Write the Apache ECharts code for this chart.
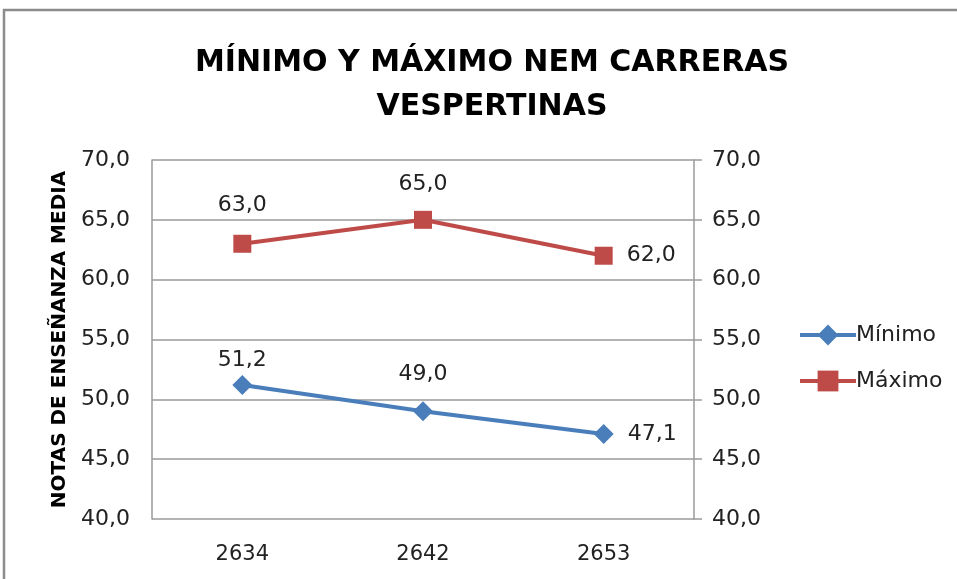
<!DOCTYPE html>
<html>
<head>
<meta charset="utf-8">
<script src="https://cdn.jsdelivr.net/npm/echarts@6/dist/echarts.min.js"></script>
<style>
  html, body { margin: 0; padding: 0; background: #fff; }
  #chart { width: 957px; height: 579px; }
</style>
</head>
<body>
<div id="chart"></div>
<script>
// Career codes on the x axis
const categories = ['2634', '2642', '2653'];
// Lowest and highest secondary-school grade averages (NEM)
const minimo = [51.2, 49.0, 47.1];
const maximo = [63.0, 65.0, 62.0];
const seriesNames = ['Mínimo', 'Máximo'];
const yMin = 40, yMax = 70, yStep = 5;

const FONT = 'DejaVu Sans';
const fmt = v => v.toFixed(1).replace('.', ',');

const chart = echarts.init(document.getElementById('chart'), null, { renderer: 'canvas' });

// Labels sit above each marker, except the last one which sits to its right
function labelFor(i, n, gap) {
  return i === n - 1
    ? { show: true, position: 'right', distance: 14 }
    : { show: true, position: 'top', distance: gap[i] };
}

function makeSeries(name, values, color, symbol, size, gap) {
  return {
    name: name,
    type: 'line',
    data: values.map((v, i) => ({ value: v, label: labelFor(i, values.length, gap) })),
    symbol: symbol,
    symbolSize: size,
    lineStyle: { color: color, width: 4 },
    itemStyle: { color: color },
    label: {
      color: '#222',
      fontFamily: FONT,
      fontSize: 22,
      formatter: p => fmt(p.value)
    },
    animation: false
  };
}

const option = {
  backgroundColor: '#fff',
  animation: false,
  title: {
    text: 'MÍNIMO Y MÁXIMO NEM CARRERAS\nVESPERTINAS',
    left: 487,
    textAlign: 'center',
    top: 36,
    textStyle: {
      fontFamily: FONT,
      fontWeight: 'bold',
      fontSize: 30,
      lineHeight: 44,
      color: '#000'
    }
  },
  legend: {
    orient: 'vertical',
    left: 793,
    top: 319,
    itemWidth: 56,
    itemHeight: 26,
    itemGap: 24,
    data: seriesNames,
    lineStyle: { width: 4 },
    textStyle: { fontFamily: FONT, fontSize: 22, color: '#222', padding: [0, 0, 0, -5] }
  },
  grid: { left: 152, right: 263, top: 160, bottom: 60 },
  xAxis: {
    type: 'category',
    data: categories,
    boundaryGap: true,
    axisLine: { show: false },
    axisTick: { show: false },
    axisLabel: { fontFamily: FONT, fontSize: 21, color: '#222', margin: 25 }
  },
  yAxis: [
    {
      type: 'value', min: yMin, max: yMax, interval: yStep,
      name: 'NOTAS DE ENSEÑANZA MEDIA',
      nameLocation: 'middle',
      nameGap: 82,
      nameTextStyle: { fontFamily: FONT, fontWeight: 'bold', fontSize: 20, color: '#000' },
      axisLine: { show: true, lineStyle: { color: '#9a9a9a', width: 1.5 } },
      axisTick: { show: false },
      splitLine: { lineStyle: { color: '#9a9a9a', width: 1.5 } },
      axisLabel: { fontFamily: FONT, fontSize: 22, color: '#222', margin: 22, formatter: v => fmt(v) }
    },
    {
      type: 'value', min: yMin, max: yMax, interval: yStep,
      position: 'right',
      axisLine: { show: true, lineStyle: { color: '#9a9a9a', width: 1.5 } },
      axisTick: { show: true, length: 8, lineStyle: { color: '#9a9a9a', width: 1.5 } },
      splitLine: { show: false },
      axisLabel: { fontFamily: FONT, fontSize: 22, color: '#222', margin: 18, formatter: v => fmt(v) }
    }
  ],
  series: [
    makeSeries(seriesNames[0], minimo, '#4A7EBB', 'diamond', 20, [4, 16, 0]),
    makeSeries(seriesNames[1], maximo, '#BE4B48', 'rect', 18, [18, 16, 0])
  ],
  graphic: [
    {
      type: 'rect',
      shape: { x: 4, y: 10, width: 1000, height: 1000 },
      style: { fill: 'none', stroke: '#8c8c8c', lineWidth: 2.5 },
      silent: true
    }
  ]
};

chart.setOption(option);
</script>
</body>
</html>
